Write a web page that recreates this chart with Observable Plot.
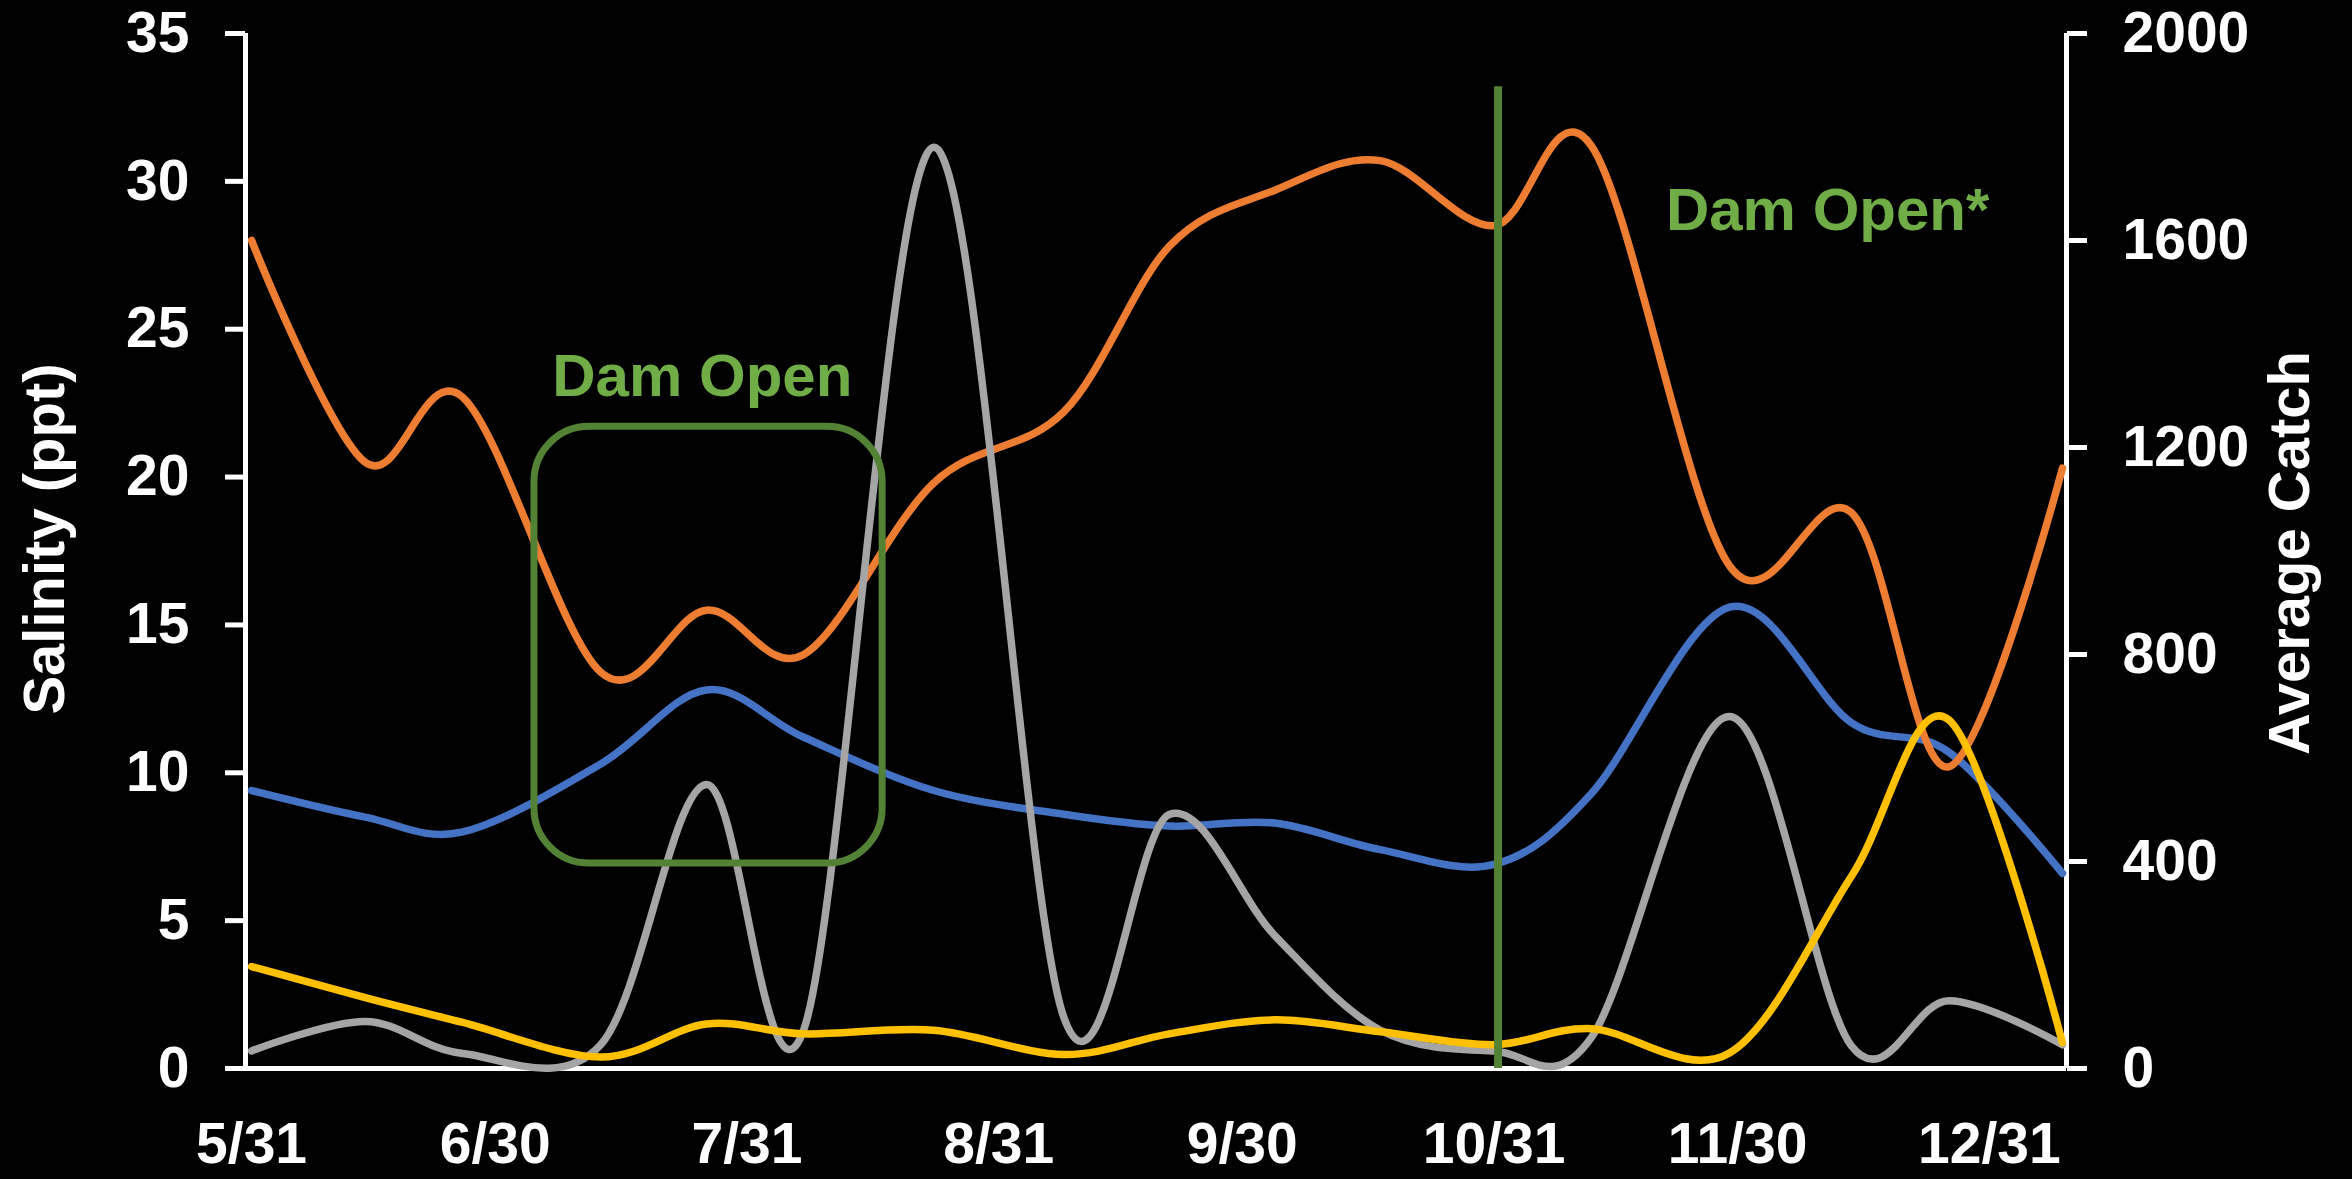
<!DOCTYPE html>
<html>
<head>
<meta charset="utf-8">
<script src="https://cdn.jsdelivr.net/npm/d3@7"></script>
<script src="https://cdn.jsdelivr.net/npm/@observablehq/plot@0.6"></script>
<style>
  html, body { margin: 0; padding: 0; background: #000; }
  #chart svg { display: block; }
</style>
</head>
<body>
<div id="chart"></div>
<script>
// ---------- data ----------
const sampleDates = ["2013-05-31","2013-06-14","2013-06-26","2013-07-13","2013-07-26","2013-08-07","2013-08-23","2013-09-08","2013-09-21","2013-10-04","2013-10-17","2013-10-31","2013-11-12","2013-11-29","2013-12-14","2013-12-26","2014-01-09"];
const salinityOrange = [28.0, 20.5, 22.7, 13.4, 15.5, 14.0, 19.8, 22.2, 27.8, 29.7, 30.7, 28.5, 31.2, 17.0, 18.8, 10.2, 20.3];
const salinityBlue   = [9.4, 8.5, 8.0, 10.3, 12.8, 11.2, 9.4, 8.6, 8.2, 8.3, 7.4, 6.9, 9.3, 15.6, 11.7, 10.7, 6.6];
const catchGray      = [34, 91, 29, 46, 549, 75, 1780, 100, 491, 257, 74, 34, 60, 680, 44, 131, 46];
const catchYellow    = [197, 137, 89, 22, 86, 67, 74, 27, 67, 94, 71, 46, 77, 30, 371, 674, 50];

const xTickDates = ["2013-05-31","2013-06-30","2013-07-31","2013-08-31","2013-09-30","2013-10-31","2013-11-30","2013-12-31"];
const salinityTicks = [0, 5, 10, 15, 20, 25, 30, 35];
const catchTicks = [0, 400, 800, 1200, 1600, 2000];
const xDomainDates = ["2013-05-30T06:00Z", "2014-01-09T12:00Z"];

const damOpenBox = [{start: "2013-07-04T20:00Z", end: "2013-08-16T17:00Z", low: 6.93, high: 21.7}];
const damOpenLine = [{date: "2013-10-31T12:00Z", top: 33.2}];
const annotations = [
  {date: "2013-07-25T12:00Z", value: 23.4, text: "Dam Open"},
  {date: "2013-12-11T02:00Z", value: 29.0, text: "Dam Open*"}
];

// ---------- helpers ----------
const salMax = 35, catchMax = 2000;
const c2s = v => v * salMax / catchMax;        // catch -> left-axis units
const d = s => new Date(s.length === 10 ? s + "T00:00Z" : s);

const series = [
  {name: "Salinity B", values: salinityBlue, scale: v => v, color: "#4472C4"},
  {name: "Salinity A", values: salinityOrange, scale: v => v, color: "#ED7D31"},
  {name: "Catch A", values: catchGray, scale: c2s, color: "#A5A5A5"},
  {name: "Catch B", values: catchYellow, scale: c2s, color: "#FFC000"}
];
const rows = series.flatMap(s => sampleDates.map((dt, i) => ({series: s.name, date: d(dt), y: s.scale(s.values[i]), color: s.color})));

const FONT = "'Liberation Sans', Arial, sans-serif";
const xDomain = xDomainDates.map(d);

const chart = Plot.plot({
  width: 2352,
  height: 1179,
  marginLeft: 245,
  marginRight: 286,
  marginTop: 33,
  marginBottom: 111,
  style: {background: "#000", color: "#fff", fontFamily: FONT},
  x: {type: "utc", domain: xDomain},
  y: {domain: [0, salMax]},
  marks: [
    // axes
    Plot.axisX({ticks: xTickDates.map(d), tickFormat: d3.utcFormat("%-m/%-d"), tickSize: 0, tickPadding: 54,
      fontSize: 57, fontWeight: "bold", fill: "#fff", label: null}),
    Plot.axisY({anchor: "left", ticks: salinityTicks, tickSize: 20, tickPadding: 36, strokeWidth: 5,
      stroke: "#fff", fontSize: 57, fontWeight: "bold", fill: "#fff", label: null}),
    Plot.axisY({anchor: "right", ticks: catchTicks.map(c2s), tickFormat: v => String(Math.round(v * catchMax / salMax)),
      tickSize: 20, tickPadding: 36, strokeWidth: 5, stroke: "#fff", fontSize: 57, fontWeight: "bold", fill: "#fff", label: null}),
    Plot.ruleX([xDomain[0]], {y1: 0, y2: salMax, stroke: "#fff", strokeWidth: 5}),
    Plot.ruleX([xDomain[1]], {y1: 0, y2: salMax, stroke: "#fff", strokeWidth: 5}),
    Plot.ruleY([0], {stroke: "#fff", strokeWidth: 5}),
    // axis titles
    Plot.text(["Salinity (ppt)"], {frameAnchor: "left", textAnchor: "middle", dx: -200, dy: -12, rotate: -90, fontSize: 58, fontWeight: "bold", fill: "#fff"}),
    Plot.text(["Average Catch"], {frameAnchor: "right", textAnchor: "middle", dx: 224, dy: 2, rotate: -90, fontSize: 58, fontWeight: "bold", fill: "#fff"}),
    // series
    Plot.line(rows, {x: "date", y: "y", z: "series", stroke: "color", strokeWidth: 7.5, curve: "cardinal", strokeLinecap: "round"}),
    // annotations
    Plot.rect(damOpenBox, {x1: r => d(r.start), x2: r => d(r.end), y1: "low", y2: "high", fill: "none", stroke: "#548235", strokeWidth: 7, rx: 55}),
    Plot.ruleX(damOpenLine, {x: r => d(r.date), y1: 0, y2: "top", stroke: "#548235", strokeWidth: 8}),
    Plot.text(annotations, {x: r => d(r.date), y: "value", text: "text", fill: "#70AD47", fontSize: 60, fontWeight: "bold"})
  ]
});
document.getElementById("chart").appendChild(chart);
</script>
</body>
</html>
